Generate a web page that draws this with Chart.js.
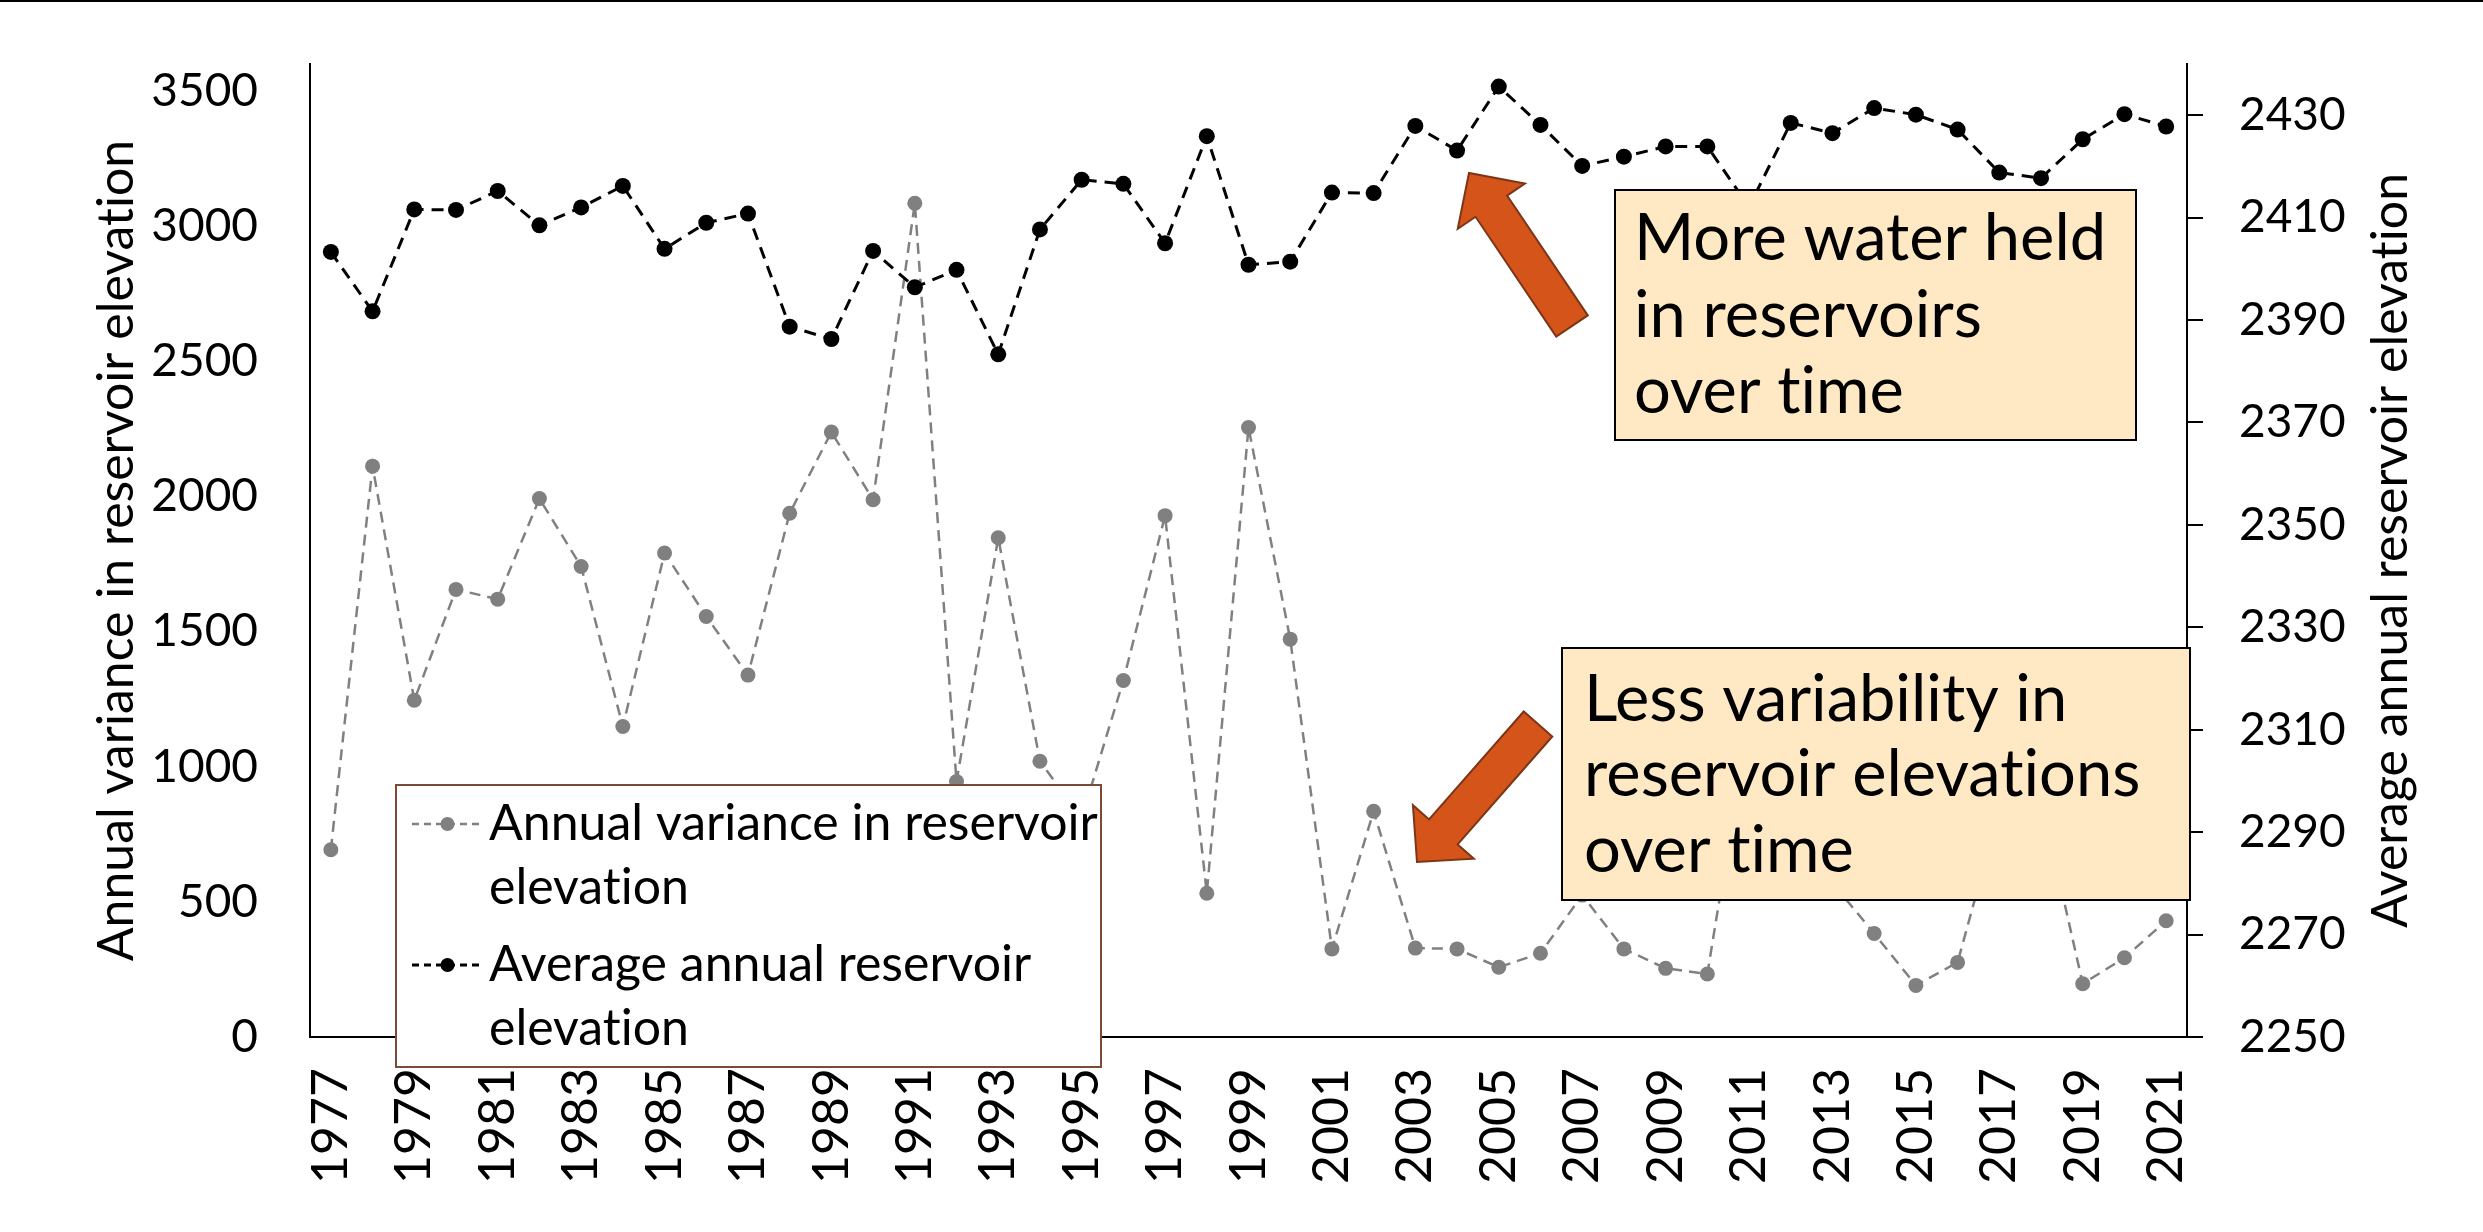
<!DOCTYPE html>
<html>
<head>
<meta charset="utf-8">
<title>Reservoir elevation</title>
<script src="https://cdn.jsdelivr.net/npm/chart.js@4.4.1/dist/chart.umd.min.js"></script>
<style>
  html, body { margin: 0; padding: 0; background: #ffffff; }
  #wrap { position: relative; width: 2483px; height: 1232px; }
  canvas { display: block; }
</style>
</head>
<body>
<div id="wrap"><canvas id="chart" width="2483" height="1232"></canvas></div>
<script>
// ---- data ----------------------------------------------------------------
const years = [
  '1977','1978','1979','1980','1981','1982','1983','1984','1985','1986',
  '1987','1988','1989','1990','1991','1992','1993','1994','1995','1996',
  '1997','1998','1999','2000','2001','2002','2003','2004','2005','2006',
  '2007','2008','2009','2010','2011','2012','2013','2014','2015','2016',
  '2017','2018','2019','2020','2021'
];

// annual variance in reservoir elevation (left axis)
const varianceValues = [
  693, 2112, 1246, 1656, 1620, 1992, 1741, 1149, 1791, 1556,
  1339, 1938, 2238, 1988, 3085, 945, 1847, 1020, 810, 1319,
  1929, 532, 2255, 1472, 326, 835, 329, 326, 258, 310,
  525, 326, 254, 233, 1180, 760, 570, 383, 191, 276,
  840, 880, 197, 293, 430
];

// average annual reservoir elevation (right axis)
const elevationValues = [
  2403.3, 2391.7, 2411.6, 2411.5, 2415.2, 2408.5, 2412.0, 2416.2, 2403.9, 2409.0,
  2410.8, 2388.7, 2386.3, 2403.5, 2396.4, 2399.8, 2383.3, 2407.7, 2417.4, 2416.6,
  2405.0, 2425.9, 2400.8, 2401.4, 2414.9, 2414.8, 2427.9, 2423.1, 2435.6, 2428.1,
  2420.1, 2421.9, 2423.9, 2423.9, 2412.1, 2428.5, 2426.5, 2431.4, 2430.1, 2427.2,
  2418.8, 2417.7, 2425.3, 2430.2, 2427.8
];

const varianceTicks = [0, 500, 1000, 1500, 2000, 2500, 3000, 3500];
const elevationTicks = [2250, 2270, 2290, 2310, 2330, 2350, 2370, 2390, 2410, 2430];

const varianceTitle = 'Annual variance in reservoir elevation';
const elevationTitle = 'Average annual reservoir elevation';

const noteMoreWater = ['More water held', 'in reservoirs', 'over time'];
const noteLessVariability = ['Less variability in', 'reservoir elevations', 'over time'];

// ---- styling -------------------------------------------------------------
const FONT = 'Lato, "Open Sans", "DejaVu Sans", sans-serif';
const TICK_SIZE = 46;
const YEAR_SIZE = 50;
const TITLE_SIZE = 50;
const NOTE_SIZE = 65;

const layoutBoxes = {
  legend: { x: 396, y: 785, w: 705, h: 282, symX0: 412, symX1: 479, textX: 489,
            firstLine: 824, lineGap: 64, itemGap: 141, wrap: 612 },
  notes: [
    { x: 1615, y: 190, w: 521, h: 250, textX: 1634, baselines: [260, 337, 413], lines: noteMoreWater },
    { x: 1562, y: 648, w: 628, h: 252, textX: 1584, baselines: [721, 796, 872], lines: noteLessVariability }
  ],
  arrows: [
    { tail: [1572, 326], tip: [1469, 173] },
    { tail: [1538, 724], tip: [1417, 862] }
  ],
  rightTitle: { x: 2391 }
};

function wrapWords(ctx, text, maxWidth) {
  const words = text.split(' ');
  const lines = [];
  let cur = '';
  for (const w of words) {
    const test = cur ? cur + ' ' + w : w;
    if (ctx.measureText(test).width > maxWidth && cur) {
      lines.push(cur);
      cur = w;
    } else {
      cur = test;
    }
  }
  if (cur) lines.push(cur);
  return lines;
}

function drawArrow(ctx, tail, tip) {
  const shaft = 38, headW = 81, headL = 40;
  const dx = tip[0] - tail[0], dy = tip[1] - tail[1];
  const len = Math.hypot(dx, dy);
  const ux = dx / len, uy = dy / len;     // along the arrow
  const px = -uy, py = ux;                // perpendicular
  const hb = [tip[0] - ux * headL, tip[1] - uy * headL];
  const pts = [
    [tail[0] + px * shaft / 2, tail[1] + py * shaft / 2],
    [hb[0] + px * shaft / 2, hb[1] + py * shaft / 2],
    [hb[0] + px * headW / 2, hb[1] + py * headW / 2],
    tip,
    [hb[0] - px * headW / 2, hb[1] - py * headW / 2],
    [hb[0] - px * shaft / 2, hb[1] - py * shaft / 2],
    [tail[0] - px * shaft / 2, tail[1] - py * shaft / 2]
  ];
  ctx.beginPath();
  ctx.moveTo(pts[0][0], pts[0][1]);
  for (let i = 1; i < pts.length; i++) ctx.lineTo(pts[i][0], pts[i][1]);
  ctx.closePath();
  ctx.fillStyle = '#D5541A';
  ctx.fill();
  ctx.lineWidth = 2;
  ctx.strokeStyle = '#7A3617';
  ctx.lineJoin = 'miter';
  ctx.stroke();
}

// plain glyphs, no "ti"-style ligatures
const textModePlugin = {
  id: 'textMode',
  beforeDraw(chart) {
    chart.ctx.textRendering = 'optimizeSpeed';
  }
};

// overlay: right-axis title, legend, arrows and call-out boxes
const overlayPlugin = {
  id: 'overlay',
  afterDraw(chart) {
    const ctx = chart.ctx;
    const area = chart.chartArea;
    const L = layoutBoxes;
    ctx.save();
    ctx.textRendering = 'optimizeSpeed';

    // thin rule along the top edge
    ctx.fillStyle = '#000';
    ctx.fillRect(0, 0, chart.width, 2);

    // right axis title, reading bottom to top
    ctx.save();
    ctx.translate(L.rightTitle.x, (area.top + area.bottom) / 2);
    ctx.rotate(-Math.PI / 2);
    ctx.font = TITLE_SIZE + 'px ' + FONT;
    ctx.fillStyle = '#000';
    ctx.textAlign = 'center';
    ctx.textBaseline = 'middle';
    ctx.fillText(elevationTitle, 0, 0);
    ctx.restore();

    // legend
    const lg = L.legend;
    ctx.fillStyle = '#fff';
    ctx.fillRect(lg.x, lg.y, lg.w, lg.h);
    ctx.lineWidth = 2;
    ctx.strokeStyle = '#7B4B35';
    ctx.strokeRect(lg.x, lg.y, lg.w, lg.h);
    ctx.font = TITLE_SIZE + 'px ' + FONT;
    chart.data.datasets.forEach((ds, i) => {
      const y0 = lg.firstLine + i * lg.itemGap;
      ctx.save();
      ctx.strokeStyle = ds.borderColor;
      ctx.lineWidth = ds.borderWidth;
      ctx.setLineDash([7, 5]);
      ctx.beginPath();
      ctx.moveTo(lg.symX0, y0);
      ctx.lineTo(lg.symX1, y0);
      ctx.stroke();
      ctx.setLineDash([]);
      ctx.fillStyle = ds.pointBackgroundColor;
      ctx.beginPath();
      ctx.arc((lg.symX0 + lg.symX1) / 2 + 2, y0, 7, 0, Math.PI * 2);
      ctx.fill();
      ctx.restore();
      ctx.fillStyle = '#000';
      ctx.textAlign = 'left';
      ctx.textBaseline = 'middle';
      wrapWords(ctx, ds.label, lg.wrap).forEach((line, k) => {
        ctx.fillText(line, lg.textX, y0 + k * lg.lineGap);
      });
    });

    // arrows
    L.arrows.forEach(a => drawArrow(ctx, a.tail, a.tip));

    // call-out boxes
    L.notes.forEach(n => {
      ctx.fillStyle = '#FFE8C4';
      ctx.fillRect(n.x, n.y, n.w, n.h);
      ctx.lineWidth = 2;
      ctx.strokeStyle = '#000';
      ctx.strokeRect(n.x, n.y, n.w, n.h);
      ctx.fillStyle = '#000';
      ctx.font = NOTE_SIZE + 'px ' + FONT;
      ctx.textAlign = 'left';
      ctx.textBaseline = 'alphabetic';
      n.lines.forEach((line, k) => ctx.fillText(line, n.textX, n.baselines[k]));
    });

    ctx.restore();
  }
};

function build() {
  Chart.defaults.font.family = FONT;
  Chart.defaults.color = '#000';

  new Chart(document.getElementById('chart'), {
    type: 'line',
    data: {
      labels: years,
      datasets: [
        {
          label: varianceTitle,
          data: varianceValues,
          yAxisID: 'y',
          borderColor: '#808080',
          backgroundColor: '#808080',
          pointBackgroundColor: '#808080',
          pointBorderColor: '#808080',
          borderWidth: 2.5,
          borderDash: [11, 7],
          pointRadius: 7.5,
          pointBorderWidth: 0,
          tension: 0,
          fill: false,
          order: 2
        },
        {
          label: elevationTitle,
          data: elevationValues,
          yAxisID: 'y2',
          borderColor: '#000000',
          backgroundColor: '#000000',
          pointBackgroundColor: '#000000',
          pointBorderColor: '#000000',
          borderWidth: 3,
          borderDash: [12, 8],
          pointRadius: 8,
          pointBorderWidth: 0,
          tension: 0,
          fill: false,
          order: 1
        }
      ]
    },
    options: {
      responsive: false,
      animation: false,
      devicePixelRatio: 1,
      layout: { padding: { top: 64, left: 0, right: 0, bottom: 0 } },
      plugins: {
        legend: { display: false },
        tooltip: { enabled: false }
      },
      scales: {
        x: {
          type: 'category',
          offset: true,
          grid: { display: false, drawTicks: false },
          border: { display: true, color: '#000', width: 2 },
          ticks: {
            autoSkip: false,
            minRotation: 90,
            maxRotation: 90,
            padding: 31,
            color: '#000',
            font: { size: YEAR_SIZE },
            callback: function (value, index) {
              return index % 2 === 0 ? this.getLabelForValue(value) : '';
            }
          },
          afterFit(scale) {
            scale.height = 195;
            scale.paddingLeft = 0;
            scale.paddingRight = 0;
          }
        },
        y: {
          position: 'left',
          min: 0,
          max: 3600,
          afterBuildTicks(scale) { scale.ticks = varianceTicks.map(v => ({ value: v })); },
          grid: { display: false, drawTicks: false },
          border: { display: true, color: '#000', width: 2 },
          ticks: {
            padding: 52,
            color: '#000',
            font: { size: TICK_SIZE },
            callback: v => String(v)
          },
          title: {
            display: true,
            text: varianceTitle,
            color: '#000',
            font: { size: TITLE_SIZE },
            padding: { top: 87, bottom: 0 }
          },
          afterFit(scale) {
            scale.width = 310;
            scale.paddingTop = 0;
            scale.paddingBottom = 0;
          }
        },
        y2: {
          position: 'right',
          min: 2250,
          max: 2440,
          afterBuildTicks(scale) { scale.ticks = elevationTicks.map(v => ({ value: v })); },
          grid: {
            display: true,
            drawOnChartArea: false,
            drawTicks: true,
            tickLength: 16,
            color: '#000',
            lineWidth: 2
          },
          border: { display: true, color: '#000', width: 2 },
          ticks: {
            padding: 36,
            color: '#000',
            font: { size: TICK_SIZE },
            callback: v => String(v)
          },
          afterFit(scale) {
            scale.width = 296;
            scale.paddingTop = 0;
            scale.paddingBottom = 0;
          }
        }
      }
    },
    plugins: [textModePlugin, overlayPlugin]
  });
}

const fontLoads = [TICK_SIZE, YEAR_SIZE, TITLE_SIZE, NOTE_SIZE].map(s => document.fonts.load(s + 'px Lato'));
Promise.all(fontLoads).then(build, build);
</script>
</body>
</html>
